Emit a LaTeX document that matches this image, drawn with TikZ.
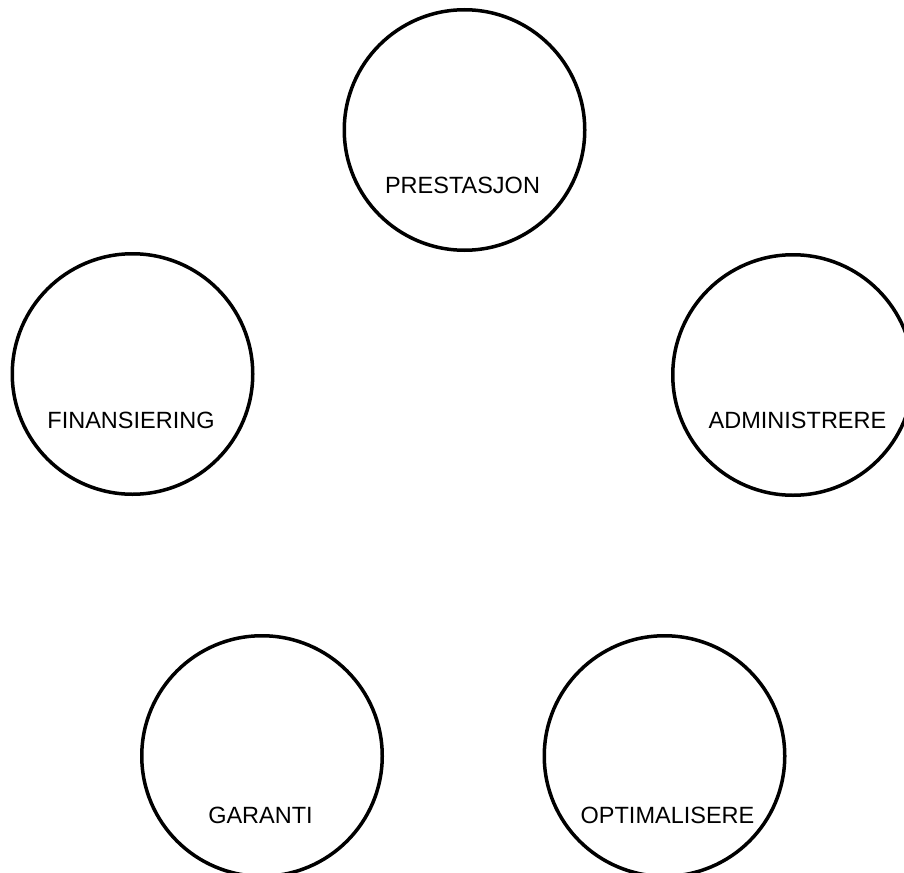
\documentclass[tikz,border=0pt]{standalone}
\usepackage{fontspec}
\setmainfont{Liberation Sans}
\usepackage{tikz}
\usetikzlibrary{positioning}

\begin{document}
\begin{tikzpicture}[
  x=1pt, y=-1pt,
  every node/.style={font=\fontsize{23.5}{28}\selectfont},
  ring/.style={circle, draw, line width=3.5pt, minimum size=240.5pt,
               inner sep=0pt},
  caption/.style={inner sep=0pt, anchor=base}
]
\useasboundingbox (0,0) rectangle (904,872);

\node[ring] (prestasjon) at (464.5,130) {};
\node[ring] (finansiering) at (132.5,374) {};
\node[ring] (administrere) at (793,375) {};
\node[ring] (garanti) at (262,756) {};
\node[ring] (optimalisere) at (664.5,756) {};

\node[caption] (prestasjontxt) at (462.5,193) {PRESTASJON};
\node[caption] (finansieringtxt) at (131,428) {FINANSIERING};
\node[caption] (administreretxt) at (797.5,428) {ADMINISTRERE};
\node[caption] (garantitxt) at (260.5,823) {GARANTI};
\node[caption] (optimaliseretxt) at (667.5,823) {OPTIMALISERE};

\end{tikzpicture}
\end{document}
